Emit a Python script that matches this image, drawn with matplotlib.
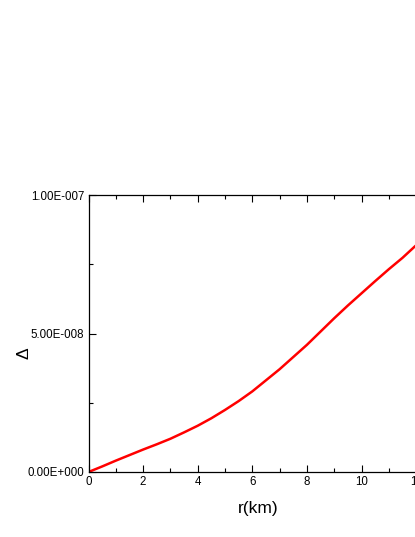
import matplotlib
matplotlib.use("Agg")
import matplotlib.pyplot as plt
from matplotlib.ticker import MultipleLocator, FixedLocator

r_km = [0, 0.5, 1, 1.5, 2, 2.5, 3, 3.5, 4, 4.5, 5, 5.5, 6, 6.5, 7, 7.5,
        8, 8.5, 9, 9.5, 10, 10.5, 11, 11.5, 11.95, 12.4]
delta = [0.0, 0.20e-8, 0.41e-8, 0.61e-8, 0.81e-8, 1.00e-8, 1.20e-8, 1.43e-8,
         1.67e-8, 1.94e-8, 2.24e-8, 2.56e-8, 2.91e-8, 3.31e-8, 3.71e-8, 4.15e-8,
         4.59e-8, 5.07e-8, 5.55e-8, 6.01e-8, 6.45e-8, 6.89e-8, 7.32e-8, 7.73e-8,
         8.14e-8, 8.52e-8]
y_ticks = [0.0, 5e-8, 1e-7]
y_tick_labels = ["0.00E+000", "5.00E-008", "1.00E-007"]

plt.rcParams['font.family'] = ['Liberation Sans', 'DejaVu Sans']

fig = plt.figure(figsize=(4.15, 5.37), dpi=100)
W, H = 415, 537
xmax = 12.4
left_px, top_px, bottom_px = 88.5, 195, 472
right_px = left_px + xmax * 27.3
ax = fig.add_axes([left_px / W, (H - bottom_px) / H,
                   (right_px - left_px) / W, (bottom_px - top_px) / H])

ax.plot(r_km, delta, color='#ff0000', lw=1.8, solid_joinstyle='round')

ax.set_xlim(0, xmax)
ax.set_ylim(0, 1e-7)
ax.xaxis.set_major_locator(MultipleLocator(2))
ax.xaxis.set_minor_locator(MultipleLocator(1))
ax.yaxis.set_major_locator(FixedLocator(y_ticks))
ax.yaxis.set_minor_locator(MultipleLocator(2.5e-8))
ax.set_yticklabels(y_tick_labels)

ax.tick_params(which='both', direction='in', top=True, right=True,
               labelsize=8.3, width=0.8, pad=3)
ax.tick_params(which='major', length=5)
ax.tick_params(which='minor', length=3)
for s in ax.spines.values():
    s.set_linewidth(0.9)

ax.set_xlabel("r(km)", fontsize=12.5, labelpad=9)
ax.set_ylabel("Δ", fontsize=12.5, va='center', ha='center')
ax.yaxis.set_label_coords((23.5 - left_px) / (right_px - left_px),
                          (bottom_px - 353) / (bottom_px - top_px))

fig.savefig("out.png", dpi=100)
